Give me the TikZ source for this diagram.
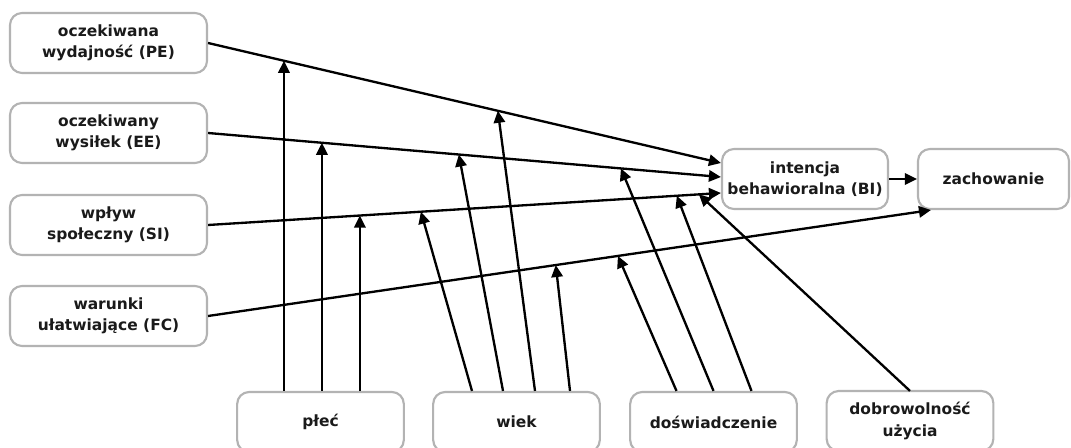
\documentclass[tikz,border=0pt]{standalone}
\usepackage{fontspec}
\setmainfont{DejaVu Sans}
\usetikzlibrary{arrows.meta,calc}
\definecolor{boxgray}{HTML}{B3B3B3}
\definecolor{textc}{HTML}{1A1A1A}
\begin{document}
\begin{tikzpicture}[x=0.75pt,y=-0.75pt,
  box/.style={draw=boxgray, line width=1.6pt, rounded corners=9pt, fill=white,
    align=center, font=\fontsize{11.6}{16}\selectfont\bfseries, text=textc,
    minimum height=45pt, inner sep=0pt},
  lbox/.style={box, minimum width=147.75pt},
  bbox/.style={box, minimum width=125pt},
  arr/.style={line width=1.75pt, draw=black, -{Triangle[length=9pt,width=8.5pt]}}]
\useasboundingbox (0,0) rectangle (1071,448);
% nodes
\node[lbox] (PE) at (108.5,43) {oczekiwana\\wydajność (PE)};
\node[lbox] (EE) at (108.5,133) {oczekiwany\\wysiłek (EE)};
\node[lbox] (SI) at (108.5,225) {wpływ\\społeczny (SI)};
\node[lbox] (FC) at (108.5,316) {warunki\\ułatwiające (FC)};
\node[box, minimum width=124.5pt] (BI) at (805,179) {intencja\\behawioralna (BI)};
\node[box, minimum width=113.25pt] (ZA) at (993.5,179) {zachowanie};
\node[bbox] (PL) at (320.5,422) {płeć};
\node[bbox] (WI) at (516.5,422) {wiek};
\node[bbox] (DO) at (713.5,422) {doświadczenie};
\node[bbox] (DB) at (910,421) {dobrowolność\\użycia};
% end points
\coordinate (bipe) at ($(BI.west)+(0,-16)$);
\coordinate (biee) at ($(BI.west)+(0,-2)$);
\coordinate (bisi) at ($(BI.west)+(0,14)$);
\coordinate (zafc) at ($(ZA.south west)+(14,0)$);
% main connectors
\draw[arr] (PE.east) -- (bipe) coordinate[pos=0.148] (pe1) coordinate[pos=0.565] (pe2);
\draw[arr] (EE.east) -- (biee) coordinate[pos=0.222] (ee1) coordinate[pos=0.489] (ee2) coordinate[pos=0.805] (ee3);
\draw[arr] (SI.east) -- (bisi) coordinate[pos=0.296] (si1) coordinate[pos=0.415] (si2) coordinate[pos=0.914] (si3) coordinate[pos=0.957] (si4);
\draw[arr] (FC.east) -- (zafc) coordinate[pos=0.481] (fc1) coordinate[pos=0.567] (fc2);
\draw[arr] (BI.east) -- (ZA.west);
% moderators: płeć
\draw[arr] (PL.north -| pe1) -- (pe1);
\draw[arr] (PL.north -| ee1) -- (ee1);
\draw[arr] (PL.north -| si1) -- (si1);
% wiek
\coordinate (w1) at ($(WI.north)+(-44.5,0)$);
\coordinate (w2) at ($(WI.north)+(-13.5,0)$);
\coordinate (w3) at ($(WI.north)+(18.5,0)$);
\coordinate (w4) at ($(WI.north)+(53.5,0)$);
\draw[arr] (w1) -- (si2);
\draw[arr] (w2) -- (ee2);
\draw[arr] (w3) -- (pe2);
\draw[arr] (w4) -- (fc1);
% doświadczenie
\coordinate (d1) at ($(DO.north)+(-37,0)$);
\coordinate (d3) at ($(DO.north)+(38,0)$);
\draw[arr] (d1) -- (fc2);
\draw[arr] (DO.north) -- (ee3);
\draw[arr] (d3) -- (si3);
% dobrowolność
\coordinate (db0) at (DB.north |- DO.north);
\draw[arr] (db0) -- (si4);
\end{tikzpicture}
\end{document}
